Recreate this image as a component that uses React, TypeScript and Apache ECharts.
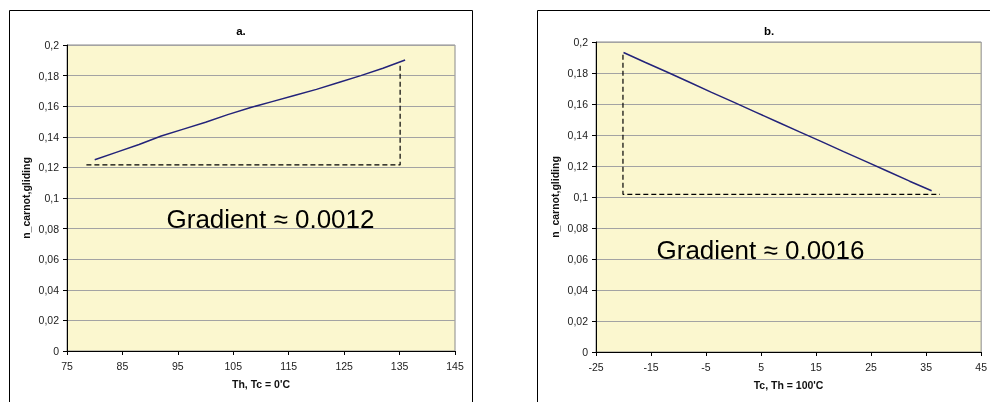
import React, { useEffect, useRef } from "react";
import * as echarts from "echarts";

// Chart a: Th varies, Tc = 0'C
const thValues = [80, 84, 88, 92, 96, 100, 104, 108, 112, 116, 120, 124, 128, 132, 136];
const etaA = [0.125, 0.130, 0.135, 0.1405, 0.145, 0.1495, 0.1545, 0.159, 0.163, 0.167, 0.171, 0.1755, 0.180, 0.1848, 0.1902];
const dashAx = [78.5, 135.1, 135.1];
const dashAy = [0.1216, 0.1216, 0.188];

// Chart b: Tc varies, Th = 100'C
const tcValues = [-20, -16, -12, -8, -4, 0, 4, 8, 12, 16, 20, 24, 28, 32, 36];
const etaB = [0.1932, 0.1868, 0.1805, 0.174, 0.1675, 0.1612, 0.1548, 0.1484, 0.142, 0.1357, 0.1293, 0.123, 0.1166, 0.1102, 0.104];
const dashBx = [-20.1, -20.1, 37.5];
const dashBy = [0.1918, 0.1017, 0.1017];

const yTickLabels = ["0", "0,02", "0,04", "0,06", "0,08", "0,1", "0,12", "0,14", "0,16", "0,18", "0,2"];
const titles = ["a.", "b."];
const xNames = ["Th, Tc = 0'C", "Tc, Th = 100'C"];
const yName = "n_carnot,gliding";
const gradientTexts = ["Gradient \u2248 0.0012", "Gradient \u2248 0.0016"];

const FONT = "'Liberation Sans', Arial, sans-serif";
const LINE = "#23237a";
const BG = "#fbf7cf";
const GRID = "#a3a3a3";

const zip = (xs: number[], ys: number[]) => xs.map((x, i) => [x, ys[i]]);

export default function App() {
  const ref = useRef<HTMLDivElement>(null);
  useEffect(() => {
    if (!ref.current) return;
    const chart = echarts.init(ref.current, undefined, { renderer: "svg" });
    const mkX = (i: number, min: number, max: number) => ({
      type: "value",
      gridIndex: i,
      min,
      max,
      interval: 10,
      name: xNames[i],
      nameLocation: "middle",
      nameGap: 27,
      nameTextStyle: { fontFamily: FONT, fontSize: 10.5, fontWeight: "bold", color: "#111", verticalAlign: "top" },
      axisLine: { show: true, onZero: false, lineStyle: { color: "#000", width: 1 } },
      axisTick: { show: true, length: 4, lineStyle: { color: "#000" } },
      axisLabel: { fontFamily: FONT, fontSize: 10.5, color: "#222", margin: 9 },
      splitLine: { show: false },
    });
    const mkY = (i: number) => ({
      type: "value",
      gridIndex: i,
      min: 0,
      max: 0.2,
      interval: 0.02,
      name: yName,
      nameLocation: "middle",
      nameRotate: 90,
      nameGap: 36,
      nameTextStyle: { fontFamily: FONT, fontSize: 10.5, fontWeight: "bold", color: "#111" },
      axisLine: { show: true, onZero: false, lineStyle: { color: "#000", width: 1 } },
      axisTick: { show: true, length: 4, lineStyle: { color: "#000" } },
      axisLabel: {
        fontFamily: FONT,
        fontSize: 10.5,
        color: "#222",
        margin: 8,
        formatter: (v: number) => yTickLabels[Math.round(v / 0.02)] ?? "",
      },
      splitLine: { show: true, lineStyle: { color: GRID, width: 1 } },
    });
    const textEl = (text: string, x: number, y: number, font: string) => ({
      type: "text",
      x,
      y,
      z: 100,
      style: {
        text,
        font,
        fill: "#000",
        align: "center",
        verticalAlign: "middle",
        textAlign: "center",
        textVerticalAlign: "middle",
      },
    });
    chart.setOption({
      animation: false,
      grid: [
        { left: 67, top: 45, width: 388, height: 306, show: true, backgroundColor: BG, borderColor: "#8a8a8a", borderWidth: 1 },
        { left: 596, top: 42, width: 388, height: 310, show: true, backgroundColor: BG, borderColor: "#8a8a8a", borderWidth: 1 },
      ],
      xAxis: [mkX(0, 75, 145), mkX(1, -25, 45)],
      yAxis: [mkY(0), mkY(1)],
      series: [
        { type: "line", xAxisIndex: 0, yAxisIndex: 0, data: zip(thValues, etaA), showSymbol: false, symbol: "none", lineStyle: { color: LINE, width: 1.5 } },
        { type: "line", xAxisIndex: 0, yAxisIndex: 0, data: zip(dashAx, dashAy), showSymbol: false, symbol: "none", lineStyle: { color: "#000", width: 1.2, type: [5, 3] } },
        { type: "line", xAxisIndex: 1, yAxisIndex: 1, data: zip(tcValues, etaB), showSymbol: false, symbol: "none", lineStyle: { color: LINE, width: 1.5 } },
        { type: "line", xAxisIndex: 1, yAxisIndex: 1, data: zip(dashBx, dashBy), showSymbol: false, symbol: "none", lineStyle: { color: "#000", width: 1.2, type: [5, 3] } },
      ],
      graphic: [
        { type: "rect", shape: { x: 9.5, y: 10.5, width: 463, height: 420 }, style: { fill: "none", stroke: "#000", lineWidth: 1 }, z: 100 },
        { type: "rect", shape: { x: 537.5, y: 10.5, width: 500, height: 420 }, style: { fill: "none", stroke: "#000", lineWidth: 1 }, z: 100 },
        textEl(titles[0], 241, 31, `bold 11.5px ${FONT}`),
        textEl(titles[1], 769, 31, `bold 11.5px ${FONT}`),
        textEl(gradientTexts[0], 270.5, 219, `26px ${FONT}`),
        textEl(gradientTexts[1], 760.5, 250, `26px ${FONT}`),
      ],
    });
    return () => chart.dispose();
  }, []);
  return <div ref={ref} style={{ position: "fixed", left: 0, top: 0, width: 990, height: 402 }} />;
}
